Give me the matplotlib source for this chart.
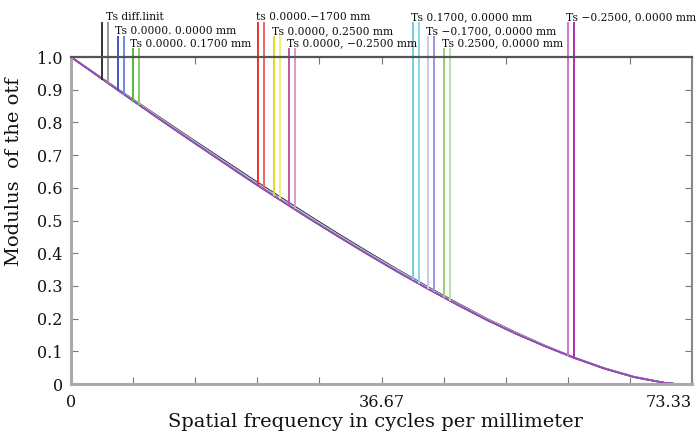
import numpy as np
import matplotlib
matplotlib.use("Agg")
import matplotlib.pyplot as plt

plt.rcParams['font.family'] = ['DejaVu Serif']

# Spatial frequency grid (cycles/mm)
freq = [0.0, 3.5, 7.0, 10.5, 14.0, 17.5, 21.0, 24.5, 28.0, 31.5, 35.0, 38.5,
        42.0, 45.5, 49.0, 52.5, 56.0, 59.5, 63.0, 66.5, 70.0, 71.5, 73.33]

# Diffraction limit (black, sits slightly on top of the bundle)
mtf_diff = [1.000, 0.938, 0.876, 0.815, 0.754, 0.694, 0.634, 0.575, 0.517, 0.460, 0.405, 0.351,
            0.299, 0.249, 0.201, 0.158, 0.117, 0.080, 0.048, 0.022, 0.004, 0.000, 0.000]
# Field curves (nearly identical bundle)
mtf_f1 = [1.000, 0.938, 0.875, 0.813, 0.752, 0.691, 0.631, 0.572, 0.514, 0.457, 0.402, 0.349,
          0.297, 0.247, 0.200, 0.157, 0.117, 0.080, 0.048, 0.022, 0.004, 0.000, 0.000]
mtf_f2 = [1.000, 0.937, 0.874, 0.812, 0.750, 0.689, 0.629, 0.570, 0.512, 0.456, 0.401, 0.348,
          0.296, 0.246, 0.199, 0.156, 0.116, 0.080, 0.048, 0.022, 0.004, 0.000, 0.000]
mtf_f3 = [1.000, 0.937, 0.873, 0.811, 0.749, 0.688, 0.627, 0.568, 0.510, 0.454, 0.399, 0.346,
          0.295, 0.245, 0.198, 0.155, 0.116, 0.079, 0.047, 0.021, 0.004, 0.000, 0.000]
mtf_f4 = [1.000, 0.936, 0.872, 0.809, 0.747, 0.686, 0.625, 0.566, 0.508, 0.452, 0.397, 0.344,
          0.293, 0.244, 0.197, 0.154, 0.115, 0.079, 0.047, 0.021, 0.004, 0.000, 0.000]

series = [mtf_f1, mtf_f4, mtf_f2, mtf_f3, mtf_diff, mtf_f2, mtf_f1, mtf_f3, mtf_f4, mtf_f4]
series_colors = ['#888888', '#55aa33', '#dd3333', '#cccc22', '#222222',
                 '#66ccdd', '#bbbbee', '#99cc77', '#3344cc', '#aa44bb']

# Legend-like labels and the frequencies of their marker lines
labels = ['Ts diff.linit', 'Ts 0.0000. 0.0000 mm', 'Ts 0.0000. 0.1700 mm',
          'ts 0.0000.\u22121700 mm', 'Ts 0.0000, 0.2500 mm', 'Ts 0.0000, \u22120.2500 mm',
          'Ts 0.1700, 0.0000 mm', 'Ts \u22120.1700, 0.0000 mm', 'Ts 0.2500, 0.0000 mm',
          'Ts \u22120.2500, 0.0000 mm']
marker_freq = [3.66, 5.55, 7.32, 22.1, 24.0, 25.75, 40.4, 42.2, 44.1, 58.7]
marker_colors = [('#333333', '#999999'), ('#4455cc', '#7788dd'), ('#55bb33', '#88cc66'),
                 ('#ee3333', '#ee6666'), ('#dddd22', '#eeee77'), ('#bb55aa', '#dd99cc'),
                 ('#77ccdd', '#88d8e8'), ('#c8c8ee', '#9999dd'), ('#99cc77', '#bbddaa'),
                 ('#cc77cc', '#aa33aa')]
marker_level = [1.104, 1.061, 1.024, 1.104, 1.061, 1.024, 1.104, 1.061, 1.024, 1.104]

fig = plt.figure(figsize=(6.96, 4.36), dpi=100)
ax = fig.add_axes([71/696, 1-384/436, 621/696, 327/436])

for s, c in zip(series, series_colors):
    ax.plot(freq, s, color=c, lw=1.1)

ax.set_xlim(0, 73.33)
ax.set_ylim(0, 1.0)

dx = 0.66
for i, (lab, f, cols, lev) in enumerate(zip(labels, marker_freq, marker_colors, marker_level)):
    for k, c in enumerate(cols):
        fx = f + k * dx
        yb = np.interp(fx, freq, mtf_f2)
        ax.plot([fx, fx], [yb, lev], color=c, lw=1.4, clip_on=False)
    tx = f + (0.45 if i == 0 else -0.3)
    ax.text(tx, lev + 0.008, lab, fontsize=7.75, ha='left', va='baseline',
            clip_on=False, color='#111111')

xt = np.linspace(0, 73.33, 11)
ax.set_xticks(xt)
ax.set_xticklabels(['0', '', '', '', '', '36.67', '', '', '', '', '73.33'])
ax.set_yticks(np.arange(0, 1.01, 0.1))
ax.set_yticklabels(['0'] + ['%.1f' % v for v in np.arange(0.1, 1.01, 0.1)])
ax.tick_params(direction='in', length=5, color='#777777', labelsize=11.5,
               top=True, right=True, labelcolor='#111111')
ax.tick_params(axis='x', pad=7)
ax.tick_params(axis='y', pad=6)
for lbl in ax.get_xticklabels():
    if lbl.get_text() == '73.33':
        lbl.set_horizontalalignment('right')

for side in ['left', 'bottom']:
    ax.spines[side].set_color('#aaaaaa')
    ax.spines[side].set_linewidth(2.2)
ax.spines['top'].set_color('#555555')
ax.spines['top'].set_linewidth(1.6)
ax.spines['right'].set_color('#888888')
ax.spines['right'].set_linewidth(1.5)

fig.text(375/696, 1-422/436, 'Spatial frequency in cycles per millimeter',
         fontsize=14, ha='center', va='center', color='#111111')
fig.text(14/696, 1-172/436, 'Modulus  of the otf', fontsize=14, rotation=90,
         ha='center', va='center', color='#111111')

fig.savefig('out.png', dpi=100)
